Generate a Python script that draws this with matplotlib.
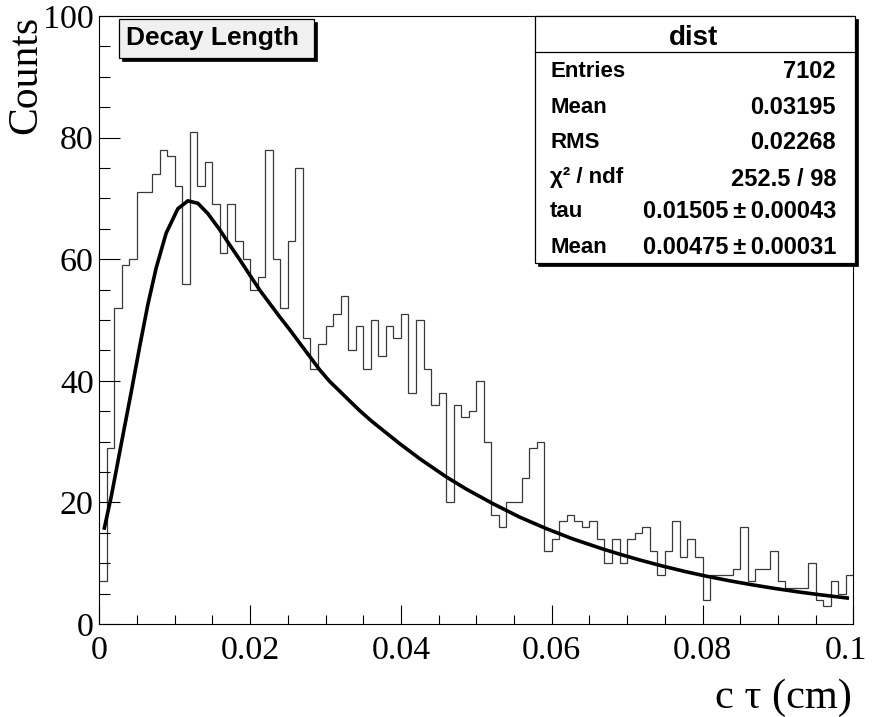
import numpy as np
import matplotlib
matplotlib.use("Agg")
import matplotlib.pyplot as plt
from matplotlib.patches import Rectangle
from matplotlib.lines import Line2D

# ---------------- data ----------------
x_min, x_max, n_bins = 0.0, 0.1, 100
counts = [7, 29, 52, 59, 60, 71, 71, 74, 78, 77,
          72, 56, 81, 72, 76, 69, 61, 69, 63, 60,
          55, 57, 78, 60, 52, 63, 75, 47, 42, 46,
          49, 51, 54, 45, 49, 42, 50, 44, 49, 47,
          51, 38, 50, 42, 36, 38, 20, 36, 34, 35,
          40, 30, 18, 16, 20, 20, 24, 29, 30, 12,
          14, 17, 18, 17, 16, 17, 14, 10, 14, 10,
          14, 15, 16, 12, 8, 12, 17, 11, 14, 11,
          4, 8, 8, 8, 9, 16, 7, 9, 9, 12,
          7, 6, 6, 6, 10, 4, 3, 7, 5, 8]

fit_x = [0.00062, 0.00159, 0.00291, 0.00424, 0.00535, 0.00645, 0.00755, 0.00887,
         0.01042, 0.01175, 0.01307, 0.0144, 0.0160, 0.01732, 0.01864, 0.01996,
         0.02129, 0.02261, 0.02394, 0.02526, 0.02658, 0.02791, 0.02923, 0.03055,
         0.03188, 0.0332, 0.03453, 0.03608, 0.0398, 0.04248, 0.04601, 0.04866,
         0.05219, 0.05572, 0.05926, 0.06278, 0.06675, 0.06897, 0.07162, 0.0747,
         0.0778, 0.08045, 0.08354, 0.08662, 0.08972, 0.09281, 0.0959, 0.09943]
fit_y = [15.5, 21.0, 29.6, 38.2, 45.6, 52.6, 58.6, 64.3,
         68.3, 69.6, 69.2, 67.5, 64.8, 62.3, 59.9, 57.4,
         54.9, 52.7, 50.5, 48.4, 46.2, 44.0, 41.8, 39.9,
         38.3, 36.7, 35.1, 33.4, 29.7, 27.2, 24.2, 22.2,
         19.8, 17.6, 15.7, 14.0, 12.35, 11.5, 10.55, 9.53,
         8.6, 7.88, 7.12, 6.44, 5.82, 5.26, 4.76, 4.24]

x_ticks = [0, 0.02, 0.04, 0.06, 0.08, 0.1]
x_tick_labels = ["0", "0.02", "0.04", "0.06", "0.08", "0.1"]
y_ticks = [0, 20, 40, 60, 80, 100]
y_tick_labels = ["0", "20", "40", "60", "80", "100"]

title_text = "Decay Length"
stats_title = "dist"
stats_labels = ["Entries", "Mean", "RMS", "\u03c7\u00b2 / ndf", "tau", "Mean"]
stats_values = ["7102", "0.03195", "0.02268", "252.5 / 98",
                "0.01505\u2009\u00b1\u20090.00043", "0.00475\u2009\u00b1\u20090.00031"]

# ---------------- figure ----------------
W, H = 872, 717
fig = plt.figure(figsize=(W / 100, H / 100), dpi=100)
fig.patch.set_facecolor("white")


def P(px, py):
    return px / W, 1 - py / H


L, R, T, B = 99.3, 853.3, 16.0, 624.0
ax = fig.add_axes([L / W, 1 - B / H, (R - L) / W, (B - T) / H])

edges = np.linspace(x_min, x_max, n_bins + 1)
ax.stairs(counts, edges, color="#3a3a3a", lw=0.9, baseline=None)
ax.plot(fit_x, fit_y, color="black", lw=2.6, solid_capstyle="butt",
        solid_joinstyle="round")

serif = "Liberation Serif"
sans = "Liberation Sans"
tick_fs = 24.5

ax.set_xlim(x_min, x_max)
ax.set_ylim(0, 100)
ax.set_xticks(x_ticks)
# last label drawn separately, nudged left so it stays inside the canvas
ax.set_xticklabels(x_tick_labels[:-1] + [""])
ax.annotate(x_tick_labels[-1], xy=(x_ticks[-1], 0),
            xycoords=("data", "axes fraction"), xytext=(-5, -8),
            textcoords="offset points", ha="center", va="top",
            fontfamily=serif, fontsize=tick_fs, annotation_clip=False)
ax.set_yticks(y_ticks)
ax.set_yticklabels(y_tick_labels)
ax.set_xticks(np.arange(0, 0.1001, 0.005), minor=True)
ax.set_yticks(np.arange(0, 100.1, 5), minor=True)

for lab in ax.get_xticklabels() + ax.get_yticklabels():
    lab.set_fontfamily(serif)
    lab.set_fontsize(tick_fs)

ax.tick_params(axis="x", which="major", direction="in", length=13.7, width=0.8, pad=8, top=False)
ax.tick_params(axis="x", which="minor", direction="in", length=6.8, width=0.8, top=False)
ax.tick_params(axis="y", which="major", direction="in", length=14.9, width=0.8, pad=4, right=False)
ax.tick_params(axis="y", which="minor", direction="in", length=7.7, width=0.8, right=False)
for s in ax.spines.values():
    s.set_linewidth(0.8)
    s.set_color("black")

# axis titles
fig.text(*P(26, 16), "Counts", rotation=90, ha="center", va="top",
         fontfamily=serif, fontsize=30)
fig.text(*P(852, 698), "c \u03c4 (cm)", ha="right", va="center",
         fontfamily=serif, fontsize=30.5)

# boxes
def box(x0, y0, x1, y1, face, shadow=3, lw=0.9):
    fx0, fy1 = P(x0, y1)
    fx1, fy0 = P(x1, y0)
    sx, sy = shadow / W, shadow / H
    fig.patches.append(Rectangle((fx0 + sx, fy1 - sy), fx1 - fx0, fy0 - fy1,
                                 transform=fig.transFigure, facecolor="black",
                                 edgecolor="black", lw=0.5, zorder=5))
    fig.patches.append(Rectangle((fx0, fy1), fx1 - fx0, fy0 - fy1,
                                 transform=fig.transFigure, facecolor=face,
                                 edgecolor="black", lw=lw, zorder=6))

box(119, 19, 314, 58, "#f0f0f0")
fig.text(*P(212.5, 38.5), title_text, ha="center", va="center",
         fontfamily=sans, fontweight="bold", fontsize=19, zorder=7)

# stats box
box(535, 16, 855, 263, "white")
fx0, fy = P(535, 51.7)
fx1, _ = P(855, 51.7)
fig.add_artist(Line2D([fx0, fx1], [fy, fy], transform=fig.transFigure,
                      color="black", lw=0.9, zorder=7))
fig.text(*P(694, 38), stats_title, ha="center", va="center",
         fontfamily=sans, fontweight="bold", fontsize=20, zorder=7)
row_y = [71.7, 107.3, 142.3, 177.0, 211.7, 247.3]
for lab, val, yy in zip(stats_labels, stats_values, row_y):
    fig.text(*P(550, yy), lab, ha="left", va="center",
             fontfamily=sans, fontweight="bold", fontsize=16, zorder=7)
    fig.text(*P(836, yy + (3 if lab.startswith("\u03c7") else 0)), val,
             ha="right", va="center",
             fontfamily=sans, fontweight="bold", fontsize=17, zorder=7)

fig.savefig("out.png", dpi=100)
